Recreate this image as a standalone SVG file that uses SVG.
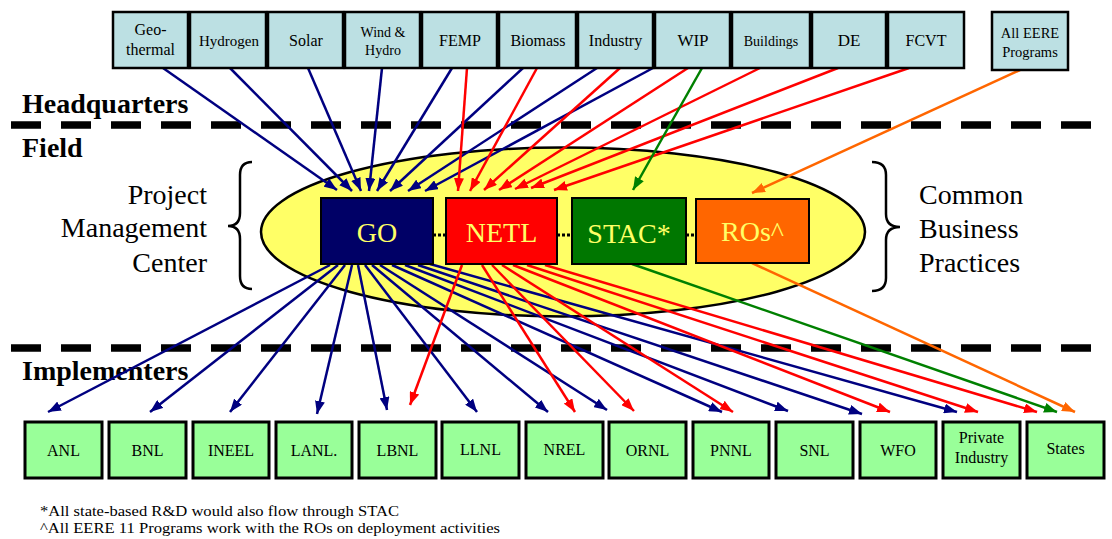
<svg xmlns="http://www.w3.org/2000/svg" width="1112" height="539" viewBox="0 0 1112 539">
<style>
.tb{fill:#bce0e3;stroke:#000;stroke-width:2.5}
.bb{fill:#99ff99;stroke:#000;stroke-width:3}
.t{font-family:"Liberation Serif","Times New Roman",serif;fill:#000;text-anchor:middle}
.hd{font-family:"Liberation Serif","Times New Roman",serif;font-weight:bold;font-size:28px;fill:#000}
.lbl{font-family:"Liberation Serif","Times New Roman",serif;font-size:28px;fill:#000}
.ct{font-family:"Liberation Serif","Times New Roman",serif;font-size:28px;fill:#ffff66;text-anchor:middle}
.cb{stroke:#000;stroke-width:2}
.dash{stroke:#000;stroke-width:7.5;stroke-dasharray:30 20;fill:none}
.dot{stroke:#000;stroke-width:3;stroke-dasharray:3 2;fill:none}
.n{stroke:#000080;stroke-width:2.5;fill:none;marker-end:url(#an)}
.r{stroke:#ff0000;stroke-width:2.5;fill:none;marker-end:url(#ar)}
.g{stroke:#008000;stroke-width:2.5;fill:none;marker-end:url(#ag)}
.o{stroke:#ff6600;stroke-width:2.5;fill:none;marker-end:url(#ao)}
.brace{stroke:#000;stroke-width:2.5;fill:none}
.fn{font-family:"Liberation Serif","Times New Roman",serif;font-size:15px;fill:#000}
</style>
<defs>
<marker id="an" markerUnits="userSpaceOnUse" markerWidth="14" markerHeight="10" refX="13" refY="5" orient="auto"><path d="M0,0 L13,5 L0,10 Z" fill="#000080"/></marker>
<marker id="ar" markerUnits="userSpaceOnUse" markerWidth="14" markerHeight="10" refX="13" refY="5" orient="auto"><path d="M0,0 L13,5 L0,10 Z" fill="#ff0000"/></marker>
<marker id="ag" markerUnits="userSpaceOnUse" markerWidth="14" markerHeight="10" refX="13" refY="5" orient="auto"><path d="M0,0 L13,5 L0,10 Z" fill="#008000"/></marker>
<marker id="ao" markerUnits="userSpaceOnUse" markerWidth="14" markerHeight="10" refX="13" refY="5" orient="auto"><path d="M0,0 L13,5 L0,10 Z" fill="#ff6600"/></marker>
</defs>
<rect width="1112" height="539" fill="#fff"/>

<g id="field-ellipse">
<ellipse cx="563" cy="232" rx="302" ry="84.5" fill="#ffff66" stroke="#000" stroke-width="2.5"/>
</g>

<g id="dividers">
<line class="dash" x1="11" y1="125" x2="1091" y2="125"/>
<line class="dash" x1="11" y1="348" x2="1091" y2="348"/>
</g>

<g id="section-labels">
<text class="hd" x="22" y="113">Headquarters</text>
<text class="hd" x="22" y="157">Field</text>
<text class="hd" x="22" y="380">Implementers</text>
</g>

<g id="pmc-label">
<path class="brace" d="M252,162 Q240,162 240,175 L240,213 Q240,226 228,226 Q240,226 240,239 L240,276 Q240,289 252,289"/>
<text class="lbl" x="207" y="204" text-anchor="end">Project</text>
<text class="lbl" x="207" y="237" text-anchor="end">Management</text>
<text class="lbl" x="207" y="272" text-anchor="end">Center</text>
</g>

<g id="cbp-label">
<path class="brace" d="M872,162 Q886,162 886,175 L886,214 Q886,227 900,227 Q886,227 886,240 L886,278 Q886,291 872,291"/>
<text class="lbl" x="919" y="204">Common</text>
<text class="lbl" x="919" y="238">Business</text>
<text class="lbl" x="919" y="272">Practices</text>
</g>

<g id="connectors">
<line class="dot" x1="433" y1="235" x2="446" y2="235"/>
<line class="dot" x1="557" y1="235" x2="572" y2="235"/>
<line class="dot" x1="686" y1="235" x2="696" y2="235"/>
<!-- HQ to GO -->
<line class="n" x1="163" y1="68" x2="337" y2="190"/>
<line class="n" x1="230" y1="68" x2="352" y2="191"/>
<line class="n" x1="308" y1="68" x2="361" y2="191"/>
<line class="n" x1="382" y1="68" x2="369" y2="191"/>
<line class="n" x1="452" y1="68" x2="377" y2="191"/>
<line class="n" x1="523" y1="68" x2="390" y2="191"/>
<line class="n" x1="597" y1="68" x2="408" y2="191"/>
<line class="n" x1="653" y1="68" x2="425" y2="191"/>
<!-- HQ to NETL -->
<line class="r" x1="467" y1="68" x2="458" y2="191"/>
<line class="r" x1="537" y1="68" x2="470" y2="191"/>
<line class="r" x1="620" y1="68" x2="484" y2="190"/>
<line class="r" x1="688" y1="68" x2="499" y2="190"/>
<line class="r" x1="760" y1="68" x2="515" y2="189"/>
<line class="r" x1="838" y1="68" x2="531" y2="188"/>
<line class="r" x1="909" y1="68" x2="554" y2="190"/>
<!-- HQ to STAC / ROs -->
<line class="g" x1="702" y1="68" x2="633" y2="190"/>
<line class="o" x1="1020" y1="70" x2="752" y2="193"/>
<!-- GO to implementers -->
<line class="n" x1="330" y1="265" x2="48" y2="412"/>
<line class="n" x1="338" y1="265" x2="150" y2="412"/>
<line class="n" x1="345" y1="265" x2="230" y2="412"/>
<line class="n" x1="352" y1="265" x2="317" y2="414"/>
<line class="n" x1="358" y1="265" x2="387" y2="410"/>
<line class="n" x1="365" y1="265" x2="477" y2="412"/>
<line class="n" x1="372" y1="265" x2="548" y2="412"/>
<line class="n" x1="380" y1="265" x2="607" y2="410"/>
<line class="n" x1="392" y1="265" x2="722" y2="412"/>
<line class="n" x1="405" y1="265" x2="788" y2="411"/>
<line class="n" x1="418" y1="265" x2="862" y2="414"/>
<line class="n" x1="430" y1="264" x2="957" y2="412"/>
<!-- NETL to implementers -->
<line class="r" x1="462" y1="265" x2="410" y2="405"/>
<line class="r" x1="482" y1="265" x2="575" y2="412"/>
<line class="r" x1="492" y1="265" x2="634" y2="411"/>
<line class="r" x1="502" y1="265" x2="733" y2="412"/>
<line class="r" x1="513" y1="265" x2="890" y2="412"/>
<line class="r" x1="527" y1="265" x2="978" y2="412"/>
<line class="r" x1="545" y1="265" x2="1037" y2="412"/>
<!-- STAC / ROs to States -->
<line class="g" x1="632" y1="264" x2="1057" y2="412"/>
<line class="o" x1="752" y1="263" x2="1075" y2="412"/>
</g>

<g id="hq-geothermal"><rect class="tb" x="113" y="12" width="75" height="56"/><text class="t" font-size="16" x="150.5" y="35">Geo-</text><text class="t" font-size="16" x="150.5" y="55">thermal</text></g>
<g id="hq-hydrogen"><rect class="tb" x="190" y="12" width="76" height="56"/><text class="t" font-size="15" x="229" y="46">Hydrogen</text></g>
<g id="hq-solar"><rect class="tb" x="268" y="12" width="75" height="56"/><text class="t" font-size="16" x="306" y="46">Solar</text></g>
<g id="hq-wind"><rect class="tb" x="345" y="12" width="75" height="56"/><text class="t" font-size="14" x="383" y="37">Wind &amp;</text><text class="t" font-size="14" x="383" y="55">Hydro</text></g>
<g id="hq-femp"><rect class="tb" x="422" y="12" width="75" height="56"/><text class="t" font-size="16" x="460" y="46">FEMP</text></g>
<g id="hq-biomass"><rect class="tb" x="499" y="12" width="77" height="56"/><text class="t" font-size="16" x="538" y="46">Biomass</text></g>
<g id="hq-industry"><rect class="tb" x="578" y="12" width="75" height="56"/><text class="t" font-size="16" x="615.5" y="46">Industry</text></g>
<g id="hq-wip"><rect class="tb" x="655" y="12" width="75" height="56"/><text class="t" font-size="17" x="693" y="46">WIP</text></g>
<g id="hq-buildings"><rect class="tb" x="732" y="12" width="78" height="56"/><text class="t" font-size="14" x="771" y="46">Buildings</text></g>
<g id="hq-de"><rect class="tb" x="812" y="12" width="74" height="56"/><text class="t" font-size="17" x="849" y="46">DE</text></g>
<g id="hq-fcvt"><rect class="tb" x="888" y="12" width="76" height="56"/><text class="t" font-size="16" x="926" y="46">FCVT</text></g>
<g id="hq-all-eere"><rect class="tb" x="992" y="12" width="76" height="58"/><text class="t" font-size="14.5" x="1030" y="38">All EERE</text><text class="t" font-size="14.5" x="1030" y="57">Programs</text></g>

<g id="field-go"><rect class="cb" x="321" y="198" width="112" height="66" fill="#000066"/><text class="ct" x="377" y="242">GO</text></g>
<g id="field-netl"><rect class="cb" x="446" y="198" width="111" height="66" fill="#ff0000"/><text class="ct" x="501.5" y="242">NETL</text></g>
<g id="field-stac"><rect class="cb" x="572" y="198" width="114" height="66" fill="#007700"/><text class="ct" x="629" y="243">STAC*</text></g>
<g id="field-ros"><rect class="cb" x="696" y="199" width="113" height="64" fill="#ff6600"/><text class="ct" x="752.5" y="241">ROs^</text></g>

<g id="impl-anl"><rect class="bb" x="25" y="422" width="77" height="56"/><text class="t" font-size="16" x="63.5" y="456">ANL</text></g>
<g id="impl-bnl"><rect class="bb" x="109" y="422" width="77" height="56"/><text class="t" font-size="16" x="147.5" y="456">BNL</text></g>
<g id="impl-ineel"><rect class="bb" x="193" y="422" width="76" height="56"/><text class="t" font-size="16" x="231" y="456">INEEL</text></g>
<g id="impl-lanl"><rect class="bb" x="276" y="422" width="76" height="56"/><text class="t" font-size="16" x="314" y="456">LANL.</text></g>
<g id="impl-lbnl"><rect class="bb" x="359" y="422" width="77" height="56"/><text class="t" font-size="16" x="397.5" y="456">LBNL</text></g>
<g id="impl-llnl"><rect class="bb" x="442" y="422" width="77" height="56"/><text class="t" font-size="16" x="480.5" y="455">LLNL</text></g>
<g id="impl-nrel"><rect class="bb" x="526" y="422" width="77" height="56"/><text class="t" font-size="16" x="564.5" y="455">NREL</text></g>
<g id="impl-ornl"><rect class="bb" x="609" y="422" width="77" height="56"/><text class="t" font-size="16" x="647.5" y="456">ORNL</text></g>
<g id="impl-pnnl"><rect class="bb" x="693" y="422" width="76" height="56"/><text class="t" font-size="16" x="731" y="456">PNNL</text></g>
<g id="impl-snl"><rect class="bb" x="776" y="422" width="77" height="56"/><text class="t" font-size="16" x="814.5" y="456">SNL</text></g>
<g id="impl-wfo"><rect class="bb" x="860" y="422" width="76" height="56"/><text class="t" font-size="16" x="898" y="456">WFO</text></g>
<g id="impl-private"><rect class="bb" x="943" y="422" width="77" height="56"/><text class="t" font-size="16" x="981.5" y="443">Private</text><text class="t" font-size="16" x="981.5" y="463">Industry</text></g>
<g id="impl-states"><rect class="bb" x="1027" y="422" width="77" height="56"/><text class="t" font-size="16" x="1065.5" y="454">States</text></g>

<g id="footnotes">
<text class="fn" x="40" y="516" textLength="359" lengthAdjust="spacingAndGlyphs">*All state-based R&amp;D would also flow through STAC</text>
<text class="fn" x="40" y="533" textLength="460" lengthAdjust="spacingAndGlyphs">^All EERE 11 Programs work with the ROs on deployment activities</text>
</g>
</svg>
